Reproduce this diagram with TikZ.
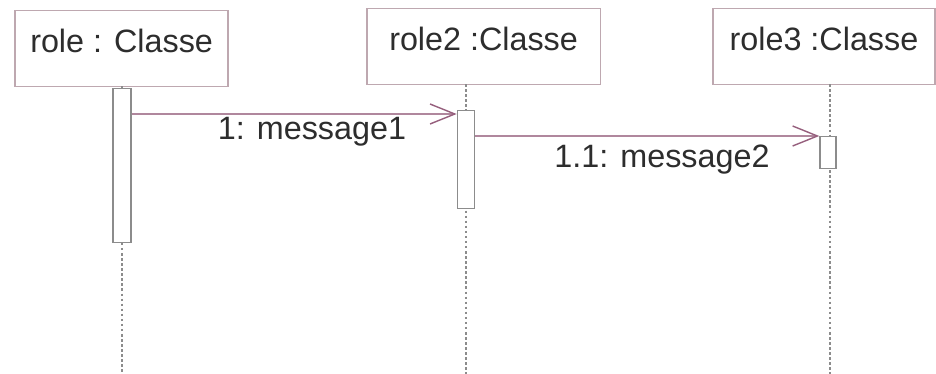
\documentclass[tikz,border=0pt]{standalone}
\usepackage{fontspec}
\setmainfont{Liberation Sans}
\usetikzlibrary{arrows.meta,positioning}
\definecolor{umlframe}{RGB}{190,168,176}
\definecolor{umlmsg}{RGB}{150,95,125}
\definecolor{umlgray}{RGB}{140,140,140}
\definecolor{umltext}{RGB}{45,45,45}

\begin{document}
\begin{tikzpicture}[
  every node/.style={font=\fontsize{23}{27}\selectfont,text=umltext},
  objbox/.style={draw=umlframe,line width=1pt,fill=white,anchor=north,
                 inner ysep=0.1cm,text height=0.95cm,text depth=0.75cm},
  actbar/.style={draw=umlgray,line width=1pt,fill=white,anchor=north,
                 minimum width=0.45cm,inner sep=0pt},
  lifeline/.style={draw=umlgray,line width=1pt,dash pattern=on 1.8pt off 1.8pt},
  msg/.style={draw=umlmsg!75,line width=0.9pt,
              -{Straight Barb[length=0.62cm,width=0.5cm,umlmsg,line width=1pt]}}
]
  \useasboundingbox (0,0) rectangle (23.4,-9.35);

  % objects
  \node[objbox,minimum width=5.33cm] (o1) at (3.04,-0.25) {role : Classe};
  \node[objbox,minimum width=5.83cm] (o2) at (12.09,-0.2) {role2 :Classe};
  \node[objbox,minimum width=5.55cm] (o3) at (20.6,-0.2) {role3 :Classe};

  % lifelines
  \coordinate (l1) at (3.05,-2.15);  \coordinate (e1) at (3.05,-9.35);
  \coordinate (l2) at (11.65,-2.1);  \coordinate (e2) at (11.65,-9.35);
  \coordinate (l3) at (20.75,-2.1);  \coordinate (e3) at (20.75,-9.35);
  \draw[lifeline] (l1) -- (e1);
  \draw[lifeline] (l2) -- (e2);
  \draw[lifeline] (l3) -- (e3);

  % activations
  \node[actbar,minimum height=3.85cm] (a1) at (3.05,-2.2) {};
  \node[actbar,minimum height=2.45cm,minimum width=0.43cm] (a2) at (11.65,-2.75) {};
  \node[actbar,minimum height=0.8cm,minimum width=0.4cm] (a3) at (20.7,-3.4) {};

  % messages
  \coordinate (m1) at ([yshift=-0.1cm]a2.north west);
  \draw[msg] (a1.east |- m1) -- (m1);
  \draw[msg] (a2.east |- a3.north west) -- (a3.north west);
  \node at (7.8,-3.3) {1: message1};
  \node at (16.55,-4.0) {1.1: message2};
\end{tikzpicture}
\end{document}
